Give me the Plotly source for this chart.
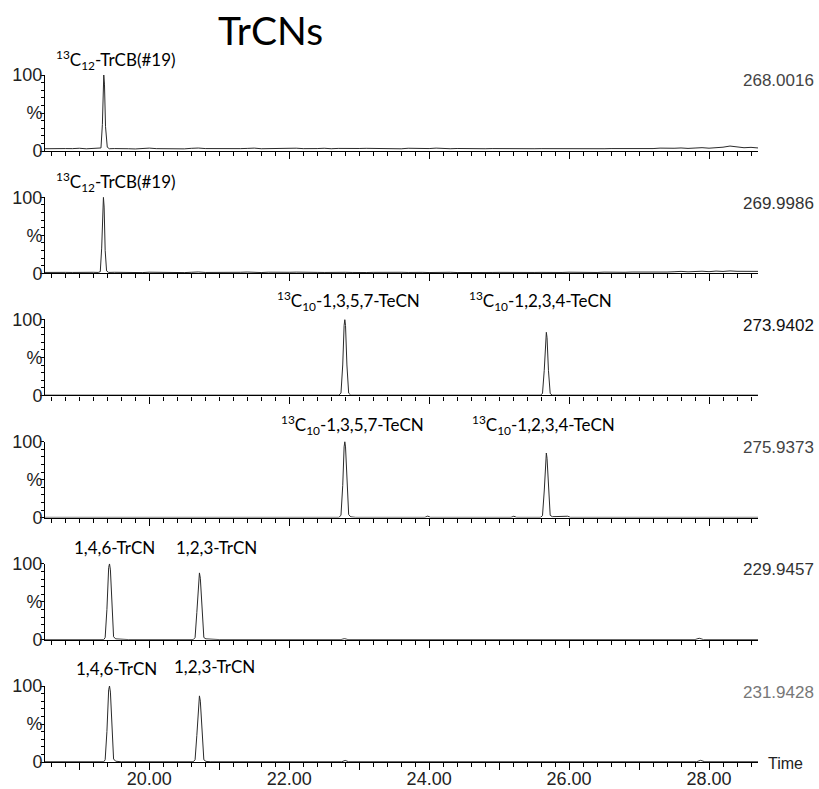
import numpy as np
import plotly.graph_objects as go

# ---------------- data ----------------
mass_labels = ["268.0016", "269.9986", "273.9402", "275.9373", "229.9457", "231.9428"]

# regular time grid for the two noisy traces (min)
t_grid = np.round(np.arange(18.5, 28.71, 0.1), 2)

noise_p1 = [
    3.0, 3.4, 2.8, 3.2, 3.1, 3.6, 2.9, 3.3, 3.0, 3.0,
    3.2, 3.5, 3.0, 2.7, 3.3, 3.8, 3.1, 2.9, 3.4, 3.0,
    2.8, 3.5, 3.9, 3.2, 3.0, 3.6, 3.3, 2.7, 3.1, 3.4,
    3.8, 3.0, 3.2, 3.5, 2.9, 3.3, 3.7, 3.1, 2.8, 3.2,
    3.6, 3.0, 3.4, 3.1, 2.9, 3.3, 3.5, 3.2, 3.0, 3.4,
    3.1, 2.9, 3.6, 3.3, 3.0, 3.2, 3.8, 3.1, 3.0, 3.3,
    3.0, 3.2, 3.1, 3.0, 3.2, 3.0, 3.1, 3.0, 3.2, 3.1,
    3.0, 3.1, 3.0, 3.2, 3.1, 3.0, 3.1, 3.2, 3.0, 3.1,
    3.0, 3.2, 3.1, 3.0, 3.3, 3.1, 3.5, 3.2, 3.8, 3.3,
    3.6, 4.0, 3.4, 3.9, 4.4, 3.7, 4.2, 5.0, 6.5, 5.2,
    4.3, 4.8, 4.0,
]
noise_p2 = [
    1.0, 1.3, 0.8, 1.1, 1.0, 1.4, 0.9, 1.2, 1.0, 1.0,
    1.2, 0.9, 1.5, 1.0, 0.8, 1.3, 1.1, 0.9, 1.4, 1.0,
    0.8, 1.2, 1.6, 1.0, 0.9, 1.3, 1.1, 0.8, 1.2, 1.5,
    1.0, 0.9, 1.3, 1.1, 0.8, 1.2, 1.4, 1.0, 0.9, 1.1,
    1.0, 1.3, 0.9, 1.2, 1.0, 1.4, 0.9, 1.1, 1.3, 1.0,
    0.9, 1.2, 1.0, 1.4, 1.1, 0.9, 1.3, 1.0, 1.2, 0.9,
    1.1, 1.0, 0.9, 1.2, 1.0, 1.1, 0.9, 1.3, 1.0, 1.2,
    1.0, 1.1, 0.9, 1.2, 1.0, 1.3, 1.1, 0.9, 1.2, 1.0,
    1.4, 1.1, 1.6, 1.2, 1.5, 1.3, 1.8, 1.4, 1.7, 1.5,
    1.9, 2.4, 1.8, 2.2, 2.6, 2.0, 2.8, 2.3, 3.0, 2.5,
    2.2, 2.7, 2.4,
]

# explicit peak / feature points per panel (time, %)
p1_t = [19.28, 19.31, 19.33, 19.34, 19.35, 19.36, 19.375, 19.40, 19.43]
p1_v = [3.0, 4.0, 35, 88, 100, 88, 32, 5.0, 3.0]

p2_t = [19.27, 19.30, 19.32, 19.335, 19.345, 19.355, 19.37, 19.39, 19.42]
p2_v = [1.0, 2.0, 33, 86, 100, 87, 30, 3.0, 1.0]

p3_t = [18.50, 22.71, 22.74, 22.765, 22.785, 22.795, 22.805, 22.825, 22.85, 22.88,
        25.59, 25.62, 25.645, 25.665, 25.675, 25.685, 25.705, 25.73, 25.76, 28.70]
p3_v = [0.3, 0.3, 3.0, 40, 92, 100, 92, 40, 3.0, 0.3,
        0.3, 2.5, 33, 76, 83, 76, 33, 2.5, 0.3, 0.3]

p4_t = [18.50, 22.71, 22.74, 22.765, 22.785, 22.795, 22.805, 22.825, 22.85, 22.88,
        22.95, 23.94, 23.98, 24.02, 25.17, 25.21, 25.25,
        25.59, 25.62, 25.645, 25.665, 25.675, 25.685, 25.705, 25.73, 25.76,
        25.95, 25.98, 26.02, 28.70]
p4_v = [0.3, 0.3, 3.0, 42, 93, 100, 93, 42, 4.0, 1.0,
        0.3, 0.3, 2.0, 0.3, 0.3, 1.8, 0.3,
        0.3, 2.5, 35, 78, 85, 78, 35, 3.0, 1.2,
        1.2, 1.8, 0.3, 0.3]

p5_t = [18.50, 19.35, 19.37, 19.395, 19.42, 19.432, 19.445, 19.47, 19.49, 19.52, 19.65, 19.70,
        20.63, 20.655, 20.68, 20.705, 20.717, 20.73, 20.755, 20.78, 20.81, 20.95, 21.00,
        22.74, 22.79, 22.84, 27.80, 27.86, 27.92, 28.70]
p5_v = [0.3, 0.3, 3.0, 40, 95, 100, 92, 38, 4.0, 1.2, 1.0, 0.3,
        0.3, 3.0, 36, 84, 88, 81, 34, 3.0, 1.2, 1.0, 0.3,
        0.3, 1.5, 0.3, 0.3, 2.0, 0.3, 0.3]

p6_t = [18.50, 19.35, 19.37, 19.395, 19.42, 19.432, 19.445, 19.47, 19.49, 19.52, 19.60,
        20.63, 20.655, 20.68, 20.705, 20.717, 20.73, 20.755, 20.78, 20.81, 20.88,
        22.75, 22.80, 22.85, 27.82, 27.88, 27.94, 28.70]
p6_v = [0.3, 0.3, 3.0, 40, 95, 100, 92, 38, 4.0, 1.0, 0.3,
        0.3, 3.0, 35, 83, 87, 80, 33, 3.0, 0.8, 0.3,
        0.3, 2.0, 0.3, 0.3, 2.2, 0.3, 0.3]

peak_t = [p1_t, p2_t, p3_t, p4_t, p5_t, p6_t]
peak_v = [p1_v, p2_v, p3_v, p4_v, p5_v, p6_v]
noise = [noise_p1, noise_p2, None, None, None, None]

peak_labels = [
    ["<sup>13</sup>C<sub>12</sub>-TrCB(#19)"],
    ["<sup>13</sup>C<sub>12</sub>-TrCB(#19)"],
    ["<sup>13</sup>C<sub>10</sub>-1,3,5,7-TeCN", "<sup>13</sup>C<sub>10</sub>-1,2,3,4-TeCN"],
    ["<sup>13</sup>C<sub>10</sub>-1,3,5,7-TeCN", "<sup>13</sup>C<sub>10</sub>-1,2,3,4-TeCN"],
    ["1,4,6-TrCN", "1,2,3-TrCN"],
    ["1,4,6-TrCN", "1,2,3-TrCN"],
]
tick_vals = [19, 20, 21, 22, 23, 24, 25, 26, 27, 28]
tick_text = ["", "20.00", "", "22.00", "", "24.00", "", "26.00", "", "28.00"]

# ---------------- styling / layout constants ----------------
W, H = 819, 789
ML, MR = 45, 61
PW = W - ML - MR
x_range = [18.51, 28.70]
zero_px = [151, 273.2, 395.4, 517.6, 639.8, 762]
panel_h = 76
# label positions: (center pixel x, center pixel y offset above the 100 line)
label_pos = [
    [(116, 15)],
    [(116, 15)],
    [(348, 18), (540, 18)],
    [(352, 17), (543, 17)],
    [(114, 16), (216, 16)],
    [(116, 18), (214, 20)],
]
mass_colors = ["#444444", "#333333", "#111111", "#444444", "#333333", "#777777"]

fig = go.Figure()
layout = dict(
    width=W, height=H,
    margin=dict(l=ML, r=MR, t=0, b=0, autoexpand=False),
    paper_bgcolor="white", plot_bgcolor="white",
    showlegend=False,
)
annotations = []

for k in range(6):
    xa = "x" if k == 0 else f"x{k+1}"
    ya = "y" if k == 0 else f"y{k+1}"
    pt, pv = list(peak_t[k]), list(peak_v[k])
    if noise[k] is not None:
        lo, hi = min(pt), max(pt)
        for t, v in zip(t_grid, noise[k]):
            if t < lo or t > hi:
                pt.append(float(t)); pv.append(v)
        order = np.argsort(pt)
        pt = [pt[i] for i in order]; pv = [pv[i] for i in order]
    fig.add_trace(go.Scatter(x=pt, y=pv, mode="lines", xaxis=xa, yaxis=ya,
                             line=dict(color="#2a2a2a", width=1), hoverinfo="skip"))

    top_px = zero_px[k] - panel_h
    bottom = 1 - zero_px[k] / H
    top = 1 - top_px / H
    xkey = "xaxis" if k == 0 else f"xaxis{k+1}"
    ykey = "yaxis" if k == 0 else f"yaxis{k+1}"
    last = (k == 5)
    layout[xkey] = dict(
        domain=[0, 1], anchor=ya, range=x_range, showgrid=False, zeroline=False,
        automargin=False,
        showline=True, linecolor="black", linewidth=1.3,
        tickmode="array", tickvals=tick_vals, ticktext=tick_text,
        ticks="outside", ticklen=7, tickcolor="black", tickwidth=1,
        showticklabels=last, ticklabelstandoff=-7,
        tickfont=dict(family="Liberation Sans, Arial", size=18, color="#222222"),
        minor=dict(tick0=0, dtick=0.2, ticks="outside", ticklen=4, tickcolor="black", showgrid=False),
    )
    if k > 0:
        layout[xkey]["matches"] = "x"
    layout[ykey] = dict(
        domain=[bottom, top], anchor=xa, range=[0, 100], showgrid=False, zeroline=False,
        automargin=False,
        showline=True, linecolor="black", linewidth=1,
        tickmode="array", tickvals=[0, 50, 100], ticktext=["0", "%", "100"],
        ticks="outside", ticklen=4, tickcolor="black", ticklabelstandoff=-6,
        tickfont=dict(family="Liberation Sans, Arial", size=18, color="#222222"),
        minor=dict(tick0=0, dtick=10, ticks="outside", ticklen=3, tickcolor="black", showgrid=False),
    )
    for txt, (px, dy) in zip(peak_labels[k], label_pos[k]):
        annotations.append(dict(text=txt, x=(px - ML) / PW, y=1 - (top_px - dy) / H,
                                xref="paper", yref="paper", showarrow=False,
                                xanchor="center", yanchor="middle",
                                font=dict(family="Lato", size=17, color="black")))
    annotations.append(dict(text=mass_labels[k], x=(816 - ML) / PW, y=1 - (top_px + 6) / H,
                            xref="paper", yref="paper", showarrow=False,
                            xanchor="right", yanchor="middle",
                            font=dict(family="Liberation Sans, Arial", size=17, color=mass_colors[k])))

annotations.append(dict(text="Time", x=(766 - ML) / PW, y=1 - 763 / H, xref="paper", yref="paper",
                        showarrow=False, xanchor="left", yanchor="middle",
                        font=dict(family="Liberation Sans, Arial", size=16, color="#222222")))
annotations.append(dict(text="TrCNs", x=(270 - ML) / PW, y=1 - 30 / H,
                        xref="paper", yref="paper", showarrow=False,
                        xanchor="center", yanchor="middle",
                        font=dict(family="Lato", size=39, color="black")))
layout["annotations"] = annotations
fig.update_layout(**layout)
fig.write_html("out.html")
